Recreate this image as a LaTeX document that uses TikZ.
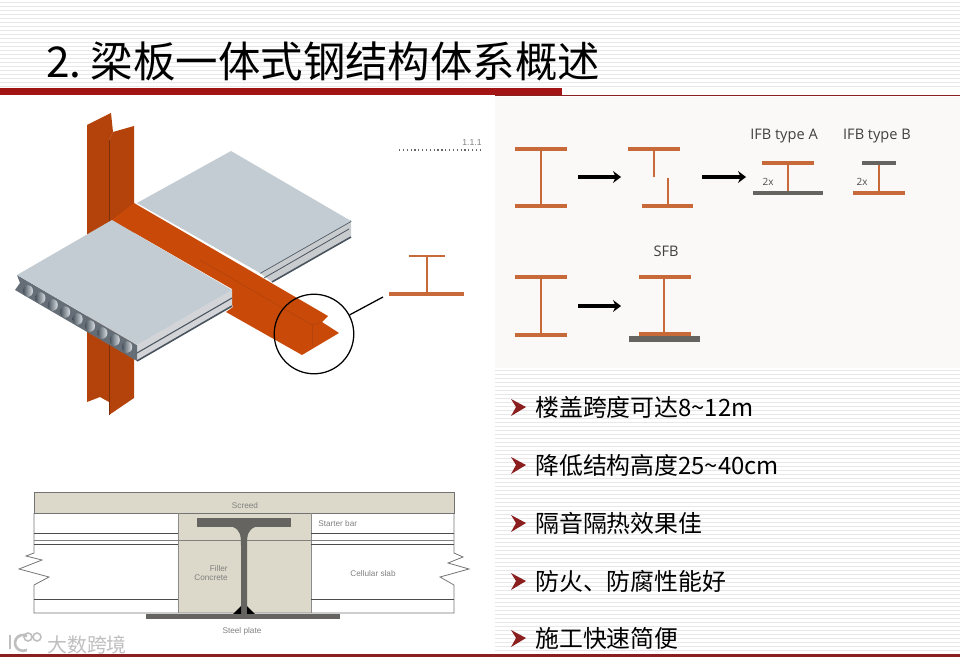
\documentclass[tikz,border=0pt]{standalone}
\usepackage{fontspec}
\setmainfont{Noto Sans CJK SC}
\newfontfamily\latinfont{Open Sans}
\newfontfamily\notefont{Liberation Sans}
\usetikzlibrary{arrows.meta,positioning}
\definecolor{barred}{HTML}{A31515}
\definecolor{linered}{HTML}{8B1F1F}
\definecolor{steelred}{HTML}{C94A08}
\definecolor{steeldark}{HTML}{B4430B}
\definecolor{slabtop}{HTML}{C3CCD3}
\definecolor{slabedge}{HTML}{4A545E}
\definecolor{beamorange}{HTML}{C8693A}
\definecolor{beamgray}{HTML}{666461}
\definecolor{screed}{HTML}{DCD9CA}
\definecolor{panel}{HTML}{FBF9F7}
\tikzset{
  flange/.style={beamorange,line width=3.2},
  web/.style={beamorange,line width=2.1},
  grayplate/.style={beamgray,line width=3.4},
  notetext/.style={font=\notefont\fontsize{6.2}{7}\selectfont,text=gray,inner sep=0,align=center},
  typetext/.style={font=\latinfont\fontsize{11}{12}\selectfont,text=black!75,inner sep=0},
  fliparrow/.style={-{Stealth[length=6pt,width=9pt]},line width=3},
  slabline/.style={black!70,line width=0.6}
}
\begin{document}
\begin{tikzpicture}[x=0.0265cm,y=-0.0265cm]
 \useasboundingbox (0,0) rectangle (960,662);
 \foreach \s in {2,6,...,86} {\draw[black!9,line width=0.7] (0,\s)--(960,\s);}
 \fill[panel] (495,97) rectangle (960,368);
 \foreach \s in {370,374,...,654} {\draw[black!9,line width=0.7] (495,\s)--(960,\s);}
 \fill[barred] (0,88) rectangle (562,95);
 \draw[linered,line width=0.7] (495,95.5)--(960,95.5);
 \fill[linered] (0,654) rectangle (960,657);
 \node[anchor=west,inner sep=0,font=\fontsize{32}{36}\selectfont] (title) at (46,61) {2.\hspace{7pt}梁板一体式钢结构体系概述};
 % column
 \shade[left color=steeldark,middle color=steelred,right color=steeldark] (87,125)--(111,113)--(113,132)--(109,140)--(109,415)--(109,402)--(100,397)--(87,402)--cycle;
 \fill[steeldark] (109,140)--(113,132)--(134,126)--(134,398)--(109,415)--cycle;
 \draw[steeldark!70!black,line width=0.5] (109,140)--(109,415);
 % back slab
 \fill[slabedge!30!white] (351,221)--(351,237)--(272,282)--(260,273)--cycle;
 \draw[slabedge,line width=1.2] (351,221)--(260,273);
 \draw[slabedge,line width=1.2] (351,237)--(272,282);
 \draw[slabedge,line width=0.6] (349,229)--(264,278);
 \fill[slabtop] (137,203)--(231,151)--(351,221)--(260,273)--cycle;
 % beam
 \fill[steelred] (134,203)--(328,316)--(322,322)--(339,333)--(302,355)--(226,312)--(233,307)--(230,300)--(232,289)--(112,220)--cycle;
 \draw[steeldark,line width=0.5] (200,260)--(312,325)--(322,322);
 \draw[steeldark,line width=0.5] (312,325)--(312,346);
 % front slab
 \fill[slabedge!25!white] (137,345)--(232,290)--(232,306)--(137,361)--cycle;
 \draw[slabedge,line width=1.2] (137,361)--(232,306);
 \draw[slabedge,line width=0.8] (137,353)--(232,298);
 \fill[slabedge!85!white] (17,275)--(20,283)--(15,290)--(137,361)--(137,345)--cycle;
 \fill[slabtop] (112,220)--(17,275)--(137,345)--(232,290)--cycle;
 \foreach \i in {0,...,8} {\shade[left color=slabedge,right color=slabtop!60!white] ({28+12.4*\i},{291+7*\i}) ellipse (5 and 6);}
 % detail ring
 \node[circle,draw,line width=0.95,minimum size=60pt,inner sep=0] (ring) at (314,334) {};
 \coordinate (ringend) at (383,297);
 \draw[line width=0.95] (ring)--(ringend);
 \draw[beamorange,line width=2] (409,256)--(445,256);
 \draw[web] (427,256)--(427,294);
 \draw[beamorange,line width=3.6] (389,294)--(464,294);
 \node[inner sep=0,font=\notefont\fontsize{6.5}{8}\selectfont,text=gray] (pagemark) at (472,143) {1.1.1};
 \draw[black!60,line width=0.9,dotted] (399,150)--(480,150);
 % section
 \fill[screed] (34,492) rectangle (454,513);
 \fill[screed] (178,513) rectangle (311,613);
 \draw[black!55,line width=0.6] (34,513)--(34,553)--(26,556)--(42,560)--(19,569)--(49,577)--(34,585)--(34,613)--(454,613)--(454,585)--(440,577)--(469,569)--(448,563)--(463,557)--(454,553)--(454,513);
 \draw[black!55,line width=0.6] (34,513)--(34,492)--(454,492)--(454,513)--cycle;
 \draw[black!45,line width=0.5] (178,513)--(178,613) (311,513)--(311,613);
 \foreach \s in {533,544,599} {\draw[slabline] (34,\s)--(178,\s); \draw[slabline] (311,\s)--(454,\s);}
 \draw[black!50,line width=1.3] (34,540.5)--(454,540.5);
 \fill[beamgray] (197,518) rectangle (291,527);
 \fill[beamgray] (233,527) .. controls (240,530) and (241,535) .. (241,545)--(241,614)--(247,614)--(247,545) .. controls (247,535) and (248,530) .. (255,527)--cycle;
 \fill[black] (233,614)--(241,606)--(241,614)--cycle;
 \fill[black] (247,606)--(255,614)--(247,614)--cycle;
 \fill[beamgray] (146,614) rectangle (340,618.5);
 \node[notetext] (screedlabel) at (245,506) {Screed};
 \node[notetext,anchor=west] (starterlabel) at (318,524) {Starter bar};
 \node[notetext,align=right,anchor=east] (fillerlabel) at (228,573) {Filler\\Concrete};
 \node[notetext] (slablabel) at (373,574) {Cellular slab};
 \node[notetext] (platelabel) at (242,631) {Steel plate};
 % watermark
 \begin{scope}[black!25,line width=2]
  \draw (10,635)--(10,649);
  \draw (27,636) arc (-60:-300:8);
  \draw[line width=1.2] (28,637) circle (4) (37,637) circle (4);
 \end{scope}
 \node[anchor=west,inner sep=0,text=black!25,font=\fontsize{15}{16}\selectfont] (watermark) at (47,645) {大数跨境};
 % beam series
 \foreach \xa/\xb/\s in {515/567/149,515/567/206,628/680/149,642/693/206,762/814/163,853/905/193,515/567/277,515/567/335,639/691/277,639/691/334}
   {\draw[flange] (\xa,\s)--(\xb,\s);}
 \foreach \xa/\ya/\yb in {541/149/206,654/149/177,668/178/206,788/163/193,879/163/193,541/277/335,664/277/334}
   {\draw[web] (\xa,\ya)--(\xa,\yb);}
 \draw[grayplate] (753,193)--(823,193);
 \draw[grayplate] (862,163)--(896,163);
 \draw[beamgray,line width=5] (629,339)--(700,339);
 \foreach \n/\xa/\xb/\s in {one/578/621/177,two/702/746/177,three/578/621/306}
   {\coordinate (\n a) at (\xa,\s); \coordinate (\n b) at (\xb,\s);
    \draw[fliparrow] (\n a)--(\n b);}
 \node[typetext] (typea) at (784,136) {IFB type A};
 \node[typetext] (typeb) at (877,136) {IFB type B};
 \node[typetext] (sfb) at (666,251) {SFB};
 \node[inner sep=0,font=\latinfont\fontsize{7.5}{9}\selectfont,text=black!70] (twoa) at (768,182) {2x};
 \node[inner sep=0,font=\latinfont\fontsize{7.5}{9}\selectfont,text=black!70] (twob) at (862,182) {2x};
 % bullet list
 \foreach \s/\t in {407/楼盖跨度可达8\textasciitilde12m,465/降低结构高度25\textasciitilde40cm,523/隔音隔热效果佳,581/防火、防腐性能好,638/施工快速简便}
   {\fill[linered] (511,\s-8)--(526,\s)--(511,\s+9)--(516,\s)--cycle;
    \node[anchor=west,inner sep=0,font=\fontsize{18}{20}\selectfont] (item\s) at (535,\s) {\t};}
\end{tikzpicture}
\end{document}
